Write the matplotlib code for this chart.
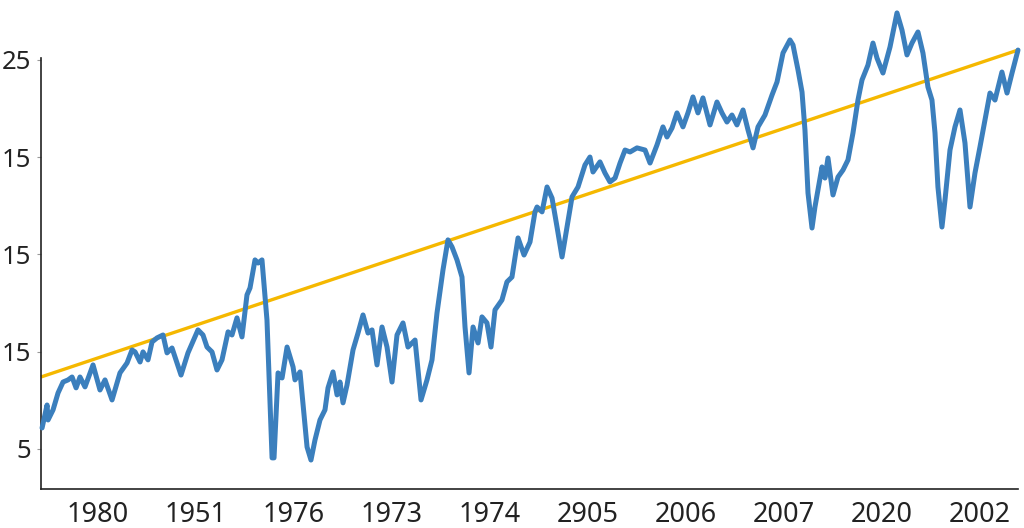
import matplotlib
matplotlib.use("Agg")
import matplotlib.pyplot as plt

plt.rcParams['font.family'] = ['Noto Sans', 'DejaVu Sans']

# x positions in "tick units" (0 = first labelled tick), y values on the value axis
x_vals = [-0.571, -0.520, -0.510, -0.459, -0.408, -0.357, -0.306, -0.265, -0.224, -0.184,
          -0.133, -0.051, 0.020, 0.071, 0.143, 0.224, 0.296, 0.347, 0.378, 0.429,
          0.459, 0.510, 0.551, 0.602, 0.663, 0.704, 0.755, 0.847, 0.918, 1.020,
          1.071, 1.112, 1.163, 1.214, 1.265, 1.327, 1.367, 1.418, 1.469, 1.520,
          1.551, 1.602, 1.633, 1.673, 1.724, 1.776, 1.796, 1.837, 1.878, 1.929,
          1.990, 2.010, 2.061, 2.133, 2.173, 2.214, 2.265, 2.316, 2.347, 2.398,
          2.439, 2.469, 2.500, 2.541, 2.602, 2.653, 2.704, 2.755, 2.796, 2.847,
          2.898, 2.949, 3.000, 3.051, 3.112, 3.163, 3.235, 3.296, 3.357, 3.408,
          3.459, 3.520, 3.571, 3.612, 3.663, 3.714, 3.745, 3.786, 3.827, 3.878,
          3.918, 3.969, 4.010, 4.051, 4.122, 4.173, 4.224, 4.286, 4.347, 4.408,
          4.459, 4.480, 4.531, 4.582, 4.633, 4.684, 4.735, 4.786, 4.837, 4.898,
          4.969, 5.020, 5.051, 5.122, 5.173, 5.224, 5.276, 5.327, 5.378, 5.429,
          5.500, 5.582, 5.633, 5.704, 5.765, 5.806, 5.857, 5.908, 5.969, 6.020,
          6.071, 6.122, 6.173, 6.245, 6.316, 6.367, 6.418, 6.469, 6.520, 6.582,
          6.633, 6.684, 6.735, 6.806, 6.878, 6.929, 6.990, 7.061, 7.092, 7.143,
          7.184, 7.214, 7.245, 7.286, 7.316, 7.347, 7.388, 7.418, 7.449, 7.500,
          7.551, 7.602, 7.653, 7.704, 7.755, 7.796, 7.857, 7.908, 7.949, 8.010,
          8.082, 8.153, 8.204, 8.255, 8.306, 8.367, 8.418, 8.469, 8.510, 8.541,
          8.571, 8.612, 8.643, 8.694, 8.745, 8.796, 8.847, 8.898, 8.949, 9.000,
          9.051, 9.102, 9.153, 9.224, 9.276, 9.327, 9.388]
y_vals = [6.08, 7.26, 6.49, 7.01, 7.88, 8.44, 8.55, 8.70, 8.14, 8.70,
          8.19, 9.32, 8.03, 8.55, 7.52, 8.91, 9.42, 10.09, 9.99, 9.47,
          9.99, 9.58, 10.50, 10.71, 10.86, 9.94, 10.19, 8.80, 9.94, 11.12,
          10.86, 10.24, 9.99, 9.06, 9.58, 11.02, 10.86, 11.74, 10.76, 12.92,
          13.28, 14.72, 14.56, 14.72, 11.63, 4.54, 4.54, 8.91, 8.65, 10.24,
          9.22, 8.55, 8.96, 5.10, 4.43, 5.46, 6.49, 7.01, 8.14, 8.96,
          7.78, 8.44, 7.37, 8.29, 10.09, 10.96, 11.89, 10.96, 11.12, 9.32,
          11.27, 10.24, 8.44, 10.86, 11.48, 10.24, 10.60, 7.52, 8.55, 9.58,
          11.99, 14.20, 15.75, 15.39, 14.72, 13.84, 11.27, 8.91, 11.27, 10.45,
          11.79, 11.48, 10.24, 12.15, 12.66, 13.59, 13.84, 15.85, 14.97, 15.64,
          17.19, 17.44, 17.19, 18.47, 17.90, 16.41, 14.87, 16.41, 17.96, 18.47,
          19.60, 20.01, 19.24, 19.76, 19.19, 18.73, 18.93, 19.70, 20.37, 20.27,
          20.48, 20.37, 19.70, 20.63, 21.56, 21.04, 21.50, 22.28, 21.56, 22.28,
          23.10, 22.28, 23.05, 21.66, 22.84, 22.28, 21.81, 22.17, 21.66, 22.43,
          21.40, 20.48, 21.56, 22.17, 23.20, 23.87, 25.36, 26.03, 25.77, 24.49,
          23.35, 21.40, 18.16, 16.36, 17.44, 18.32, 19.50, 18.93, 19.96, 18.06,
          18.98, 19.34, 19.86, 21.25, 22.94, 23.97, 24.74, 25.87, 25.10, 24.33,
          25.67, 27.42, 26.54, 25.26, 25.87, 26.44, 25.36, 23.61, 22.94, 21.25,
          18.47, 16.41, 17.80, 20.37, 21.56, 22.43, 20.73, 17.44, 19.19, 20.53,
          21.92, 23.30, 22.94, 24.38, 23.30, 24.33, 25.51]

trend_x = [-0.582, 9.388]
trend_y = [8.70, 25.51]

x_ticks = [0, 1, 2, 3, 4, 5, 6, 7, 8, 9]
x_labels = ["1980", "1951", "1976", "1973", "1974", "2905", "2006", "2007", "2020", "2002"]
y_ticks = [5, 10, 15, 20, 25]
y_labels = ["5", "15", "15", "15", "25"]

fig = plt.figure(figsize=(10.24, 5.28), dpi=100)
ax = fig.add_axes([41 / 1024, 39 / 528, (1018 - 41) / 1024, (489 - 3) / 528])

ax.plot(trend_x, trend_y, color="#f5b800", lw=2.4, solid_capstyle="butt", zorder=2, clip_on=False)
ax.plot(x_vals, y_vals, color="#3b7fbd", lw=3.6, solid_joinstyle="round",
        solid_capstyle="round", zorder=3, clip_on=False)

ax.set_xlim(-0.582, 9.388)
ax.set_ylim(2.94, 27.93)

ax.set_xticks(x_ticks)
ax.set_xticklabels(x_labels)
ax.set_yticks(y_ticks)
ax.set_yticklabels(y_labels)

ax.spines["top"].set_visible(False)
ax.spines["right"].set_visible(False)
ax.spines["left"].set_bounds(2.94, 25.1)
for s in ("left", "bottom"):
    ax.spines[s].set_color("#222222")
    ax.spines[s].set_linewidth(1.2)

ax.tick_params(axis="x", length=0, pad=9, labelsize=19.5, labelcolor="#222222")
ax.tick_params(axis="y", length=3, width=0.8, color="#999999", pad=4,
               labelsize=18.5, labelcolor="#222222")

fig.savefig("out.png", dpi=100, facecolor="white")
